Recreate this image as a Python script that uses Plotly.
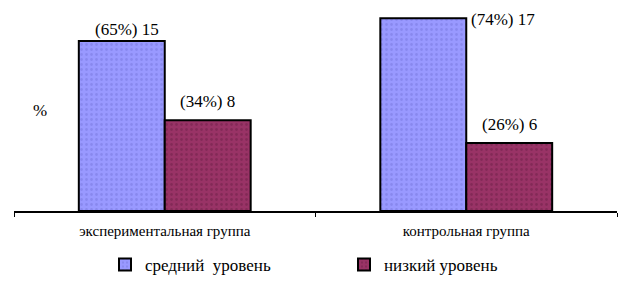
import plotly.graph_objects as go

categories = ["экспериментальная группа", "контрольная группа"]
series_names = ["средний\u00a0 уровень", "низкий уровень"]
medium_values = [15, 17]
low_values = [8, 6]
medium_pct = [65, 74]
low_pct = [34, 26]

colors = ["#9999FF", "#993366"]
dot_colors = ["#7777DD", "#6E1F47"]
serif = "Liberation Serif"

fig = go.Figure()
for name, vals, col, dcol in zip(series_names, [medium_values, low_values], colors, dot_colors):
    fig.add_trace(go.Bar(
        x=categories, y=vals, name=name,
        marker=dict(color=col, line=dict(color="black", width=2),
                    pattern=dict(shape=".", fgcolor=dcol, bgcolor=col, size=5, solidity=0.25)),
    ))

lab_font = dict(size=17, family=serif, color="black")
half = (1 - 0.43) / 4  # offset of each bar centre from category centre
annos = []
for i, (v, p) in enumerate(zip(medium_values, medium_pct)):
    if i == 1:
        annos.append(dict(x=i, y=v, xref="x", yref="y", text=f"({p}%) {v}",
                          showarrow=False, xanchor="left", yanchor="middle", xshift=3, yshift=-1,
                          font=lab_font))
    else:
        annos.append(dict(x=i - half, y=v, xref="x", yref="y", text=f"({p}%) {v}",
                          showarrow=False, xanchor="center", yanchor="bottom", yshift=0, xshift=5,
                          font=lab_font))
for i, (v, p) in enumerate(zip(low_values, low_pct)):
    annos.append(dict(x=i + half, y=v, xref="x", yref="y", text=f"({p}%) {v}",
                      showarrow=False, xanchor="center", yanchor="bottom", yshift=7,
                      font=lab_font))
annos.append(dict(xref="x domain", yref="y domain", x=(40 - 14) / 603, y=(211 - 110) / 204,
                  text="%", showarrow=False, xanchor="center", yanchor="middle", font=lab_font))

fig.update_layout(
    width=624, height=288,
    margin=dict(l=14, r=7, t=7, b=77, autoexpand=False),
    paper_bgcolor="white", plot_bgcolor="white",
    barmode="group", bargap=0.43, bargroupgap=0,
    font=dict(family=serif, color="black"),
    showlegend=True,
    legend=dict(orientation="h", x=(105 - 14) / 603, xanchor="left",
                yref="container", y=(288 - 265) / 288, yanchor="middle",
                font=dict(size=17, family=serif), entrywidth=194, traceorder="normal"),
    annotations=annos,
)
fig.update_xaxes(showline=True, linecolor="black", linewidth=2, ticks="outside",
                 tickson="boundaries", ticklen=4, tickwidth=1, tickcolor="black",
                 tickfont=dict(size=15, family=serif), ticklabelstandoff=5,
                 showgrid=False, zeroline=False)
fig.update_yaxes(range=[0, 18], visible=False, showgrid=False, zeroline=False)

fig.write_html("out.html")
